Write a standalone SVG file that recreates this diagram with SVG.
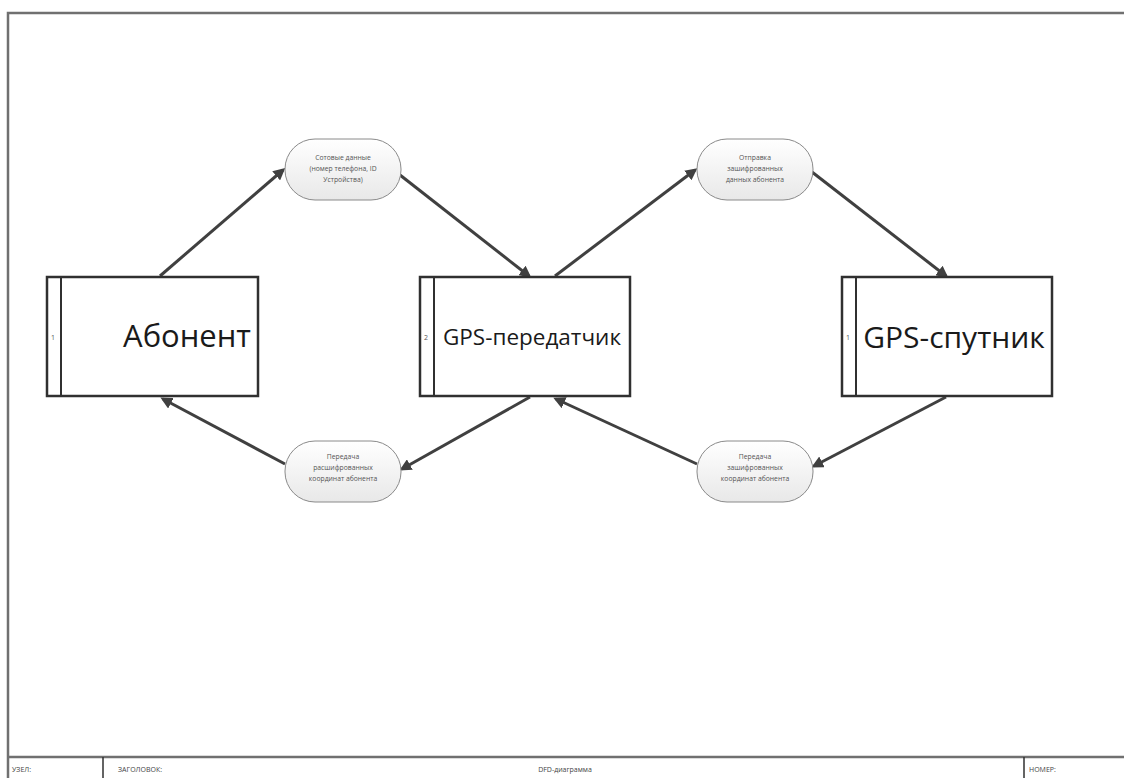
<svg xmlns="http://www.w3.org/2000/svg" width="1124" height="778" viewBox="0 0 1124 778">
<defs>
<marker id="ah" markerWidth="12" markerHeight="12" refX="9" refY="6" orient="auto" markerUnits="userSpaceOnUse" viewBox="0 0 12 12">
<path d="M0,0 L12,6 L0,12 z" fill="#404040"/>
</marker>
<linearGradient id="bg" x1="0" y1="0" x2="0" y2="1">
<stop offset="0" stop-color="#ffffff"/>
<stop offset="1" stop-color="#e8e8e8"/>
</linearGradient>
</defs>
<style>
.frame{fill:none;stroke:#707070;stroke-width:2.5}
.proc{fill:#fff;stroke:#303030;stroke-width:2.5}
.bub{fill:url(#bg);stroke:#8a8a8a;stroke-width:1}
.c{fill:none;stroke:#404040;stroke-width:3;marker-end:url(#ah)}
.t{font-family:"Open Sans","DejaVu Sans",sans-serif;fill:#1a1a1a;text-anchor:middle}
.s{font-family:"Open Sans","DejaVu Sans",sans-serif;fill:#555;font-size:6.8px;text-anchor:middle}
.n{font-family:"Open Sans","DejaVu Sans",sans-serif;fill:#555;font-size:7px}
.f{font-family:"Open Sans","DejaVu Sans",sans-serif;fill:#444;font-size:7px}
</style>
<rect x="0" y="0" width="1124" height="778" fill="#fff"/>
<g id="frame">
<path class="frame" d="M8,778 V13 H1124"/>
<line x1="8" y1="757" x2="1124" y2="757" stroke="#707070" stroke-width="2.5"/>
<line x1="103" y1="757" x2="103" y2="778" stroke="#303030" stroke-width="1.5"/>
<line x1="1024" y1="757" x2="1024" y2="778" stroke="#303030" stroke-width="1.5"/>
<text class="f" x="12" y="772">УЗЕЛ:</text>
<text class="f" x="118" y="772">ЗАГОЛОВОК:</text>
<text class="f" x="565" y="772" text-anchor="middle">DFD-диаграмма</text>
<text class="f" x="1029" y="772">НОМЕР:</text>
</g>
<g id="connectors">
<line class="c" x1="160" y1="276" x2="283" y2="170"/>
<line class="c" x1="400" y1="175" x2="529" y2="276"/>
<line class="c" x1="555" y1="276" x2="695" y2="170"/>
<line class="c" x1="812" y1="172" x2="946" y2="276"/>
<line class="c" x1="946" y1="397" x2="814" y2="466"/>
<line class="c" x1="697" y1="464" x2="556" y2="399"/>
<line class="c" x1="530" y1="397" x2="402" y2="469"/>
<line class="c" x1="285" y1="464" x2="163" y2="399"/>
</g>
<g id="node-abonent">
<rect class="proc" x="47" y="277" width="211" height="119"/>
<line x1="61" y1="277" x2="61" y2="396" stroke="#303030" stroke-width="2"/>
<text class="n" x="51" y="340">1</text>
<text class="t" x="187" y="347" font-size="31">Абонент</text>
</g>
<g id="node-gps-transmitter">
<rect class="proc" x="420" y="277" width="210" height="119"/>
<line x1="434" y1="277" x2="434" y2="396" stroke="#303030" stroke-width="2"/>
<text class="n" x="424" y="340">2</text>
<text class="t" x="532" y="345" font-size="22.5">GPS-передатчик</text>
</g>
<g id="node-gps-satellite">
<rect class="proc" x="842" y="277" width="210" height="119"/>
<line x1="856" y1="277" x2="856" y2="396" stroke="#303030" stroke-width="2"/>
<text class="n" x="846" y="340">1</text>
<text class="t" x="954" y="348" font-size="30">GPS-спутник</text>
</g>
<g id="flow-cell-data">
<rect class="bub" x="285" y="139" width="116" height="61" rx="30" ry="30"/>
<text class="s" x="343" y="160">Сотовые данные</text>
<text class="s" x="343" y="171">(номер телефона, ID</text>
<text class="s" x="343" y="182">Устройства)</text>
</g>
<g id="flow-send-encrypted">
<rect class="bub" x="697" y="139" width="116" height="61" rx="30" ry="30"/>
<text class="s" x="755" y="160">Отправка</text>
<text class="s" x="755" y="171">зашифрованных</text>
<text class="s" x="755" y="182">данных абонента</text>
</g>
<g id="flow-decrypted-coords">
<rect class="bub" x="285" y="441" width="116" height="61" rx="30" ry="30"/>
<text class="s" x="343" y="459">Передача</text>
<text class="s" x="343" y="470">расшифрованных</text>
<text class="s" x="343" y="481">координат абонента</text>
</g>
<g id="flow-encrypted-coords">
<rect class="bub" x="697" y="441" width="116" height="61" rx="30" ry="30"/>
<text class="s" x="755" y="459">Передача</text>
<text class="s" x="755" y="470">зашифрованных</text>
<text class="s" x="755" y="481">координат абонента</text>
</g>
</svg>
